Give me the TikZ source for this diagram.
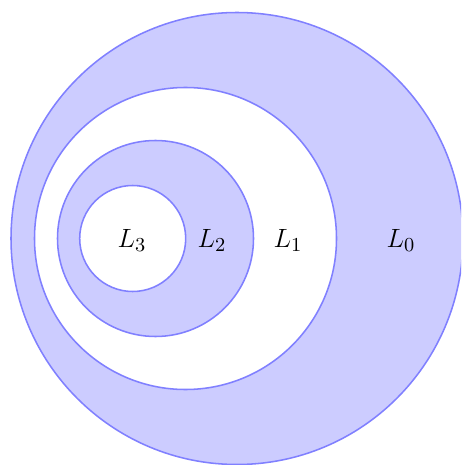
\documentclass[tikz,border=0pt]{standalone}
\begin{document}
\begin{tikzpicture}[x=0.4545pt,y=-0.4545pt,
  ring/.style={draw=blue!50, line width=0.7pt},
  lab/.style={inner sep=0pt, font=\fontsize{13}{15}\selectfont}]
\useasboundingbox (0,0) rectangle (461,465);
\clip (0,0) rectangle (461,465);
\filldraw[ring, fill=blue!20] (237,238.5) circle[radius=226*0.4545pt];
\filldraw[ring, fill=white] (185.5,238.5) circle[radius=151*0.4545pt];
\filldraw[ring, fill=blue!20] (155.5,238.5) circle[radius=98*0.4545pt];
\filldraw[ring, fill=white] (132.7,238.5) circle[radius=53*0.4545pt];
\node[lab] (l3) at (132,240) {$L_3$};
\node[lab] (l2) at (212,240) {$L_2$};
\node[lab] (l1) at (288,240) {$L_1$};
\node[lab] (l0) at (401,240) {$L_0$};
\end{tikzpicture}
\end{document}
